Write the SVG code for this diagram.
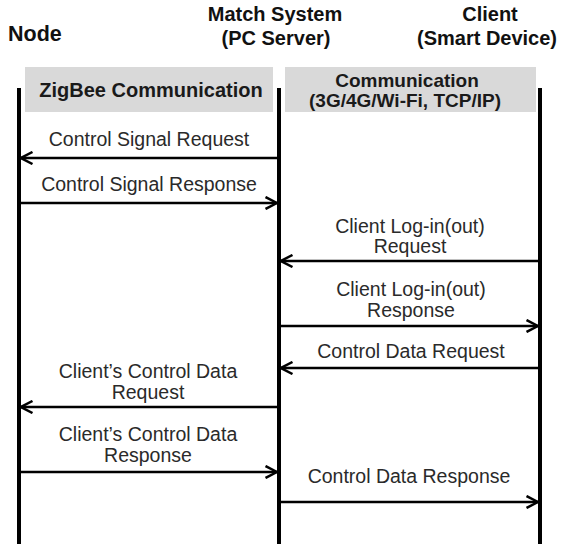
<svg xmlns="http://www.w3.org/2000/svg" width="568" height="544" viewBox="0 0 568 544">
  <style>
    .hdr { font-family: "Liberation Sans", Arial, sans-serif; font-weight: bold; font-size: 20px; fill: #111; }
    .band { fill: #d9d9d9; }
    .bandtxt { font-family: "Liberation Sans", Arial, sans-serif; font-weight: bold; font-size: 19px; fill: #1a1a1a; text-anchor: middle; }
    .life { stroke: #000; stroke-width: 4; fill: none; }
    .msg { stroke: #000; stroke-width: 2.5; fill: none; }
    .lbl { font-family: "Liberation Sans", Arial, sans-serif; font-size: 19.5px; fill: #2a2a2a; text-anchor: middle; }
  </style>
  <defs>
    <marker id="chev" viewBox="0 0 14 14" refX="12.5" refY="7" markerWidth="14" markerHeight="14" markerUnits="userSpaceOnUse" orient="auto">
      <path d="M1,1 L12.5,7 L1,13" fill="none" stroke="#000" stroke-width="2.5"/>
    </marker>
  </defs>
  <rect width="568" height="544" fill="#fff"/>

  <!-- participants -->
  <g id="node">
    <text class="hdr" x="8" y="41" style="font-size:21.5px">Node</text>
    <line class="life" x1="19" y1="88" x2="19" y2="544"/>
  </g>
  <g id="match-system">
    <text class="hdr" x="275" y="21" text-anchor="middle">Match System</text>
    <text class="hdr" x="276" y="45" text-anchor="middle">(PC Server)</text>
    <line class="life" x1="279" y1="88" x2="279" y2="544"/>
  </g>
  <g id="client">
    <text class="hdr" x="490" y="21" text-anchor="middle">Client</text>
    <text class="hdr" x="487" y="45" text-anchor="middle">(Smart Device)</text>
    <line class="life" x1="540" y1="88" x2="540" y2="544"/>
  </g>

  <!-- channel bands -->
  <g id="zigbee-band">
    <rect class="band" x="25" y="67" width="248" height="45"/>
    <text class="bandtxt" x="151" y="97" style="font-size:20px">ZigBee Communication</text>
  </g>
  <g id="network-band">
    <rect class="band" x="285" y="67" width="251" height="45"/>
    <text class="bandtxt" x="407" y="87">Communication</text>
    <text class="bandtxt" x="405" y="107">(3G/4G/Wi-Fi, TCP/IP)</text>
  </g>

  <!-- messages -->
  <g id="connectors">
    <line class="msg" x1="277" y1="158" x2="21" y2="158" marker-end="url(#chev)"/>
    <line class="msg" x1="21" y1="203" x2="277" y2="203" marker-end="url(#chev)"/>
    <line class="msg" x1="538" y1="261" x2="281" y2="261" marker-end="url(#chev)"/>
    <line class="msg" x1="281" y1="326" x2="538" y2="326" marker-end="url(#chev)"/>
    <line class="msg" x1="538" y1="368" x2="281" y2="368" marker-end="url(#chev)"/>
    <line class="msg" x1="277" y1="407" x2="21" y2="407" marker-end="url(#chev)"/>
    <line class="msg" x1="21" y1="472" x2="277" y2="472" marker-end="url(#chev)"/>
    <line class="msg" x1="281" y1="502" x2="538" y2="502" marker-end="url(#chev)"/>
  </g>

  <g id="labels">
    <text class="lbl" x="149" y="146">Control Signal Request</text>
    <text class="lbl" x="149" y="191">Control Signal Response</text>
    <text class="lbl" x="410" y="233">Client Log-in(out)</text>
    <text class="lbl" x="410" y="253">Request</text>
    <text class="lbl" x="411" y="296">Client Log-in(out)</text>
    <text class="lbl" x="411" y="317">Response</text>
    <text class="lbl" x="411" y="358">Control Data Request</text>
    <text class="lbl" x="148" y="378">Client’s Control Data</text>
    <text class="lbl" x="148" y="399">Request</text>
    <text class="lbl" x="148" y="441">Client’s Control Data</text>
    <text class="lbl" x="148" y="462">Response</text>
    <text class="lbl" x="409" y="483">Control Data Response</text>
  </g>
</svg>
